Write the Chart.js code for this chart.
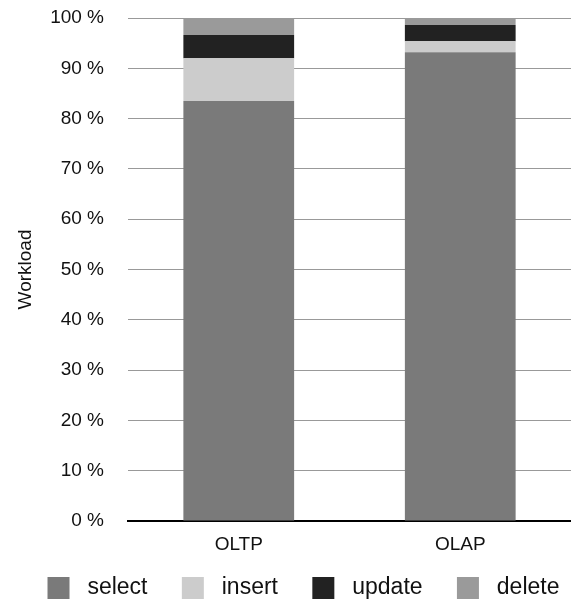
<!DOCTYPE html>
<html>
<head>
<meta charset="utf-8">
<script src="https://cdn.jsdelivr.net/npm/chart.js@4/dist/chart.umd.min.js"></script>
<style>
  body { margin: 0; background: #fff; }
  #wrap { width: 571px; height: 600px; }
</style>
</head>
<body>
<div id="wrap"><canvas id="myChart"></canvas></div>
<script>
// Dados do gráfico
const categories = ['OLTP', 'OLAP'];
const seriesNames = ['select', 'insert', 'update', 'delete'];
const selectData = [83.5, 93.2];
const insertData = [8.5, 2.2];
const updateData = [4.6, 3.2];
const deleteData = [3.4, 1.4];
const yTicks = [0, 10, 20, 30, 40, 50, 60, 70, 80, 90, 100];

const seriesColors = ['#7a7a7a', '#cccccc', '#222222', '#9a9a9a'];
const seriesData = [selectData, insertData, updateData, deleteData];
const fontFamily = '"Liberation Sans", Arial, Helvetica, sans-serif';

// desce a legenda um pouco (fica mais perto da borda de baixo)
const legendShift = {
    id: 'legendShift',
    afterLayout: chart => {
        chart.legend.top += 9.5;
        chart.legend.bottom += 9.5;
    }
};

const ctx = document.getElementById('myChart').getContext('2d');
new Chart(ctx, {
    type: 'bar',
    data: {
        labels: categories,
        datasets: seriesNames.map((name, i) => ({
            label: name,
            data: seriesData[i],
            backgroundColor: seriesColors[i],
            borderWidth: 0,
            barPercentage: 0.5,
            categoryPercentage: 1
        }))
    },
    options: {
        responsive: true,
        maintainAspectRatio: false,
        animation: false,
        layout: {
            padding: { left: 36, top: 18, right: 0, bottom: 0 }
        },
        scales: {
            x: {
                stacked: true,
                grid: { display: false, drawTicks: false },
                border: { display: true, color: '#000', width: 2 },
                ticks: {
                    padding: 12,
                    color: '#111',
                    font: { family: fontFamily, size: 19 }
                },
                afterFit: scale => { scale.height = 37.2; }
            },
            y: {
                stacked: true,
                min: 0,
                max: 100,
                afterBuildTicks: scale => { scale.ticks = yTicks.map(v => ({ value: v })); },
                grid: { color: '#999', lineWidth: 1, drawTicks: true, tickLength: 17.4, tickColor: 'rgba(0,0,0,0)' },
                border: { display: false },
                ticks: {
                    padding: 6.6,
                    color: '#111',
                    font: { family: fontFamily, size: 19 },
                    callback: v => v + ' %'
                },
                title: {
                    display: true,
                    text: 'Workload',
                    color: '#111',
                    padding: { top: -21.4, bottom: 0 },
                    font: { family: fontFamily, size: 19 }
                },
                afterFit: scale => { scale.width = 92; }
            }
        },
        plugins: {
            tooltip: { enabled: false },
            legend: {
                position: 'bottom',
                labels: {
                    color: '#111',
                    boxWidth: 22,
                    boxHeight: 22,
                    padding: 8.8,
                    font: { family: fontFamily, size: 23 },
                    // espaço entre quadrado e texto, e entre os itens
                    generateLabels: chart => {
                        const items = Chart.defaults.plugins.legend.labels.generateLabels(chart);
                        return items.map((it, i) => {
                            it.text = ' ' + it.text + (i < items.length - 1 ? '    ' : '');
                            it.lineWidth = 0;
                            return it;
                        });
                    }
                }
            }
        }
    },
    plugins: [legendShift]
});
</script>
</body>
</html>
